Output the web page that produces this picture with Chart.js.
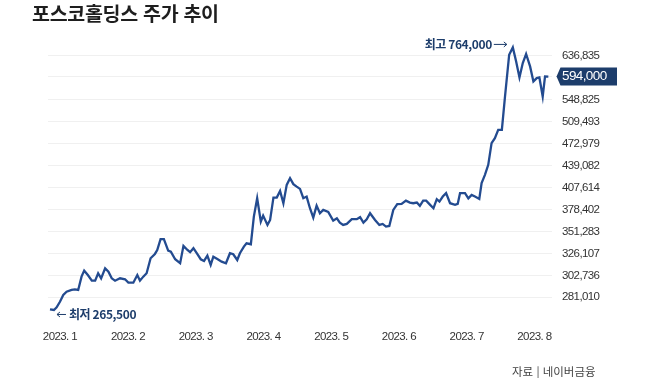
<!DOCTYPE html>
<html lang="ko">
<head>
<meta charset="utf-8">
<script src="https://cdn.jsdelivr.net/npm/chart.js@4/dist/chart.umd.min.js"></script>
<style>
  body { margin: 0; background: #fff; }
  #wrap { position: relative; width: 650px; height: 378px; overflow: hidden; }
  #chart { position: absolute; left: 0; top: 0; }
  .title {
    position: absolute; left: 32px; top: 2px;
    font: 700 19.5px 'Noto Sans CJK KR', sans-serif; line-height: 22px;
    color: #1e1e1e; letter-spacing: -0.3px;
  }
  .source {
    position: absolute; left: 512px; top: 363px;
    font: 400 11.5px 'Noto Sans CJK KR', sans-serif; line-height: 16px;
    color: #444;
  }
</style>
</head>
<body>
<div id="wrap">
  <canvas id="chart" width="650" height="378"></canvas>
  <div class="title">포스코홀딩스 주가 추이</div>
  <div class="source">자료 | 네이버금융</div>
</div>
<script>
// trading-day index (Jan 2 = 0) and closing price
const days = [
  0, 1.2, 2, 3, 4, 5, 6.5, 7.5, 8.5, 9.5,
  10.3, 11.4, 12.6, 13.6, 14.5, 15.4, 16.6, 17.6, 18.6, 19.6,
  21.1, 22.6, 23.6, 25.1, 26.3, 27.1, 28.1, 29.1, 30.3, 31.6,
  32.3, 33.3, 34.3, 35.6, 36.4, 37.7, 39.2, 40.2, 41.4, 42.2,
  43.2, 44.2, 45.4, 46.4, 47.4, 48.4, 49.2, 50.4, 51.7, 53,
  54.2, 55.2, 56.4, 57.2, 58.4, 59.2, 60.5, 61.4, 62.4, 63.5,
  64.2, 65.5, 66.3, 67.3, 68.3, 69.3, 70.3, 71.3, 72.3, 73.3,
  74.3, 75.3, 76.3, 77.3, 78.3, 79.3, 80.3, 81.3, 82.3, 83.8,
  85.3, 86.4, 87.3, 88.3, 89.4, 90.9, 92.4, 93.4, 94.4, 95.4,
  96.4, 97.9, 99.2, 100.2, 101.2, 102.2, 103.4, 104.6, 105.9, 107.2,
  108.4, 109.4, 110.5, 111.4, 112.4, 113.3, 114.5, 115.5, 116.5, 117.3,
  118.3, 119.3, 120.5, 122, 122.8, 123.5, 125, 126, 127, 128,
  129.3, 130, 131, 132, 133, 134, 135, 136.1, 137, 138.3,
  139.4, 140.4, 141.4, 142.4, 143.4, 144.6, 145.6, 146.6, 147.4, 148.4,
  149.1, 150.1
];
const prices = [
  269800, 269200, 271600, 276800, 283200, 286400, 288100, 288700, 288100, 301400,
  307600, 303100, 297300, 297300, 304900, 299700, 310100, 306500, 299700, 297300,
  299700, 298700, 295300, 295300, 303100, 297300, 301400, 304900, 320800, 325500,
  329900, 342200, 342200, 329200, 328000, 319700, 315400, 334500, 329900, 327400,
  331900, 326300, 319700, 317900, 323600, 313600, 322500, 320000, 317100, 315400,
  326300, 325200, 318900, 326300, 333700, 337500, 336400, 369400, 393200, 363200,
  370700, 359200, 365300, 394000, 394000, 403100, 386600, 411400, 420900, 412400,
  409000, 405800, 393200, 395400, 380100, 368200, 383500, 373700, 377900, 375400,
  364400, 367400, 362000, 359200, 360400, 366200, 366200, 368700, 362000, 366200,
  373700, 365300, 359200, 360400, 357100, 357900, 377900, 385300, 385700, 390000,
  387400, 386600, 387400, 383100, 390000, 390000, 384400, 380100, 391900, 388700,
  395400, 400000, 386600, 384400, 385700, 400000, 400000, 393000, 397700, 395400,
  392300, 413800, 425600, 440300, 474000, 482100, 495800, 495800, 552200, 639600,
  655600, 625200, 592100, 621800, 641100, 614700, 584200, 590900, 592100, 555200,
  594200, 594000
];
const monthPos = [3, 23.5, 43.9, 64.3, 84.7, 105.1, 125.5, 145.9];
const monthLabels = ['2023. 1', '2023. 2', '2023. 3', '2023. 4', '2023. 5', '2023. 6', '2023. 7', '2023. 8'];
const yTicks = [281010, 302736, 326107, 351283, 378402, 407614, 439082, 472979, 509493, 548825, 594000, 636835];
const currentPrice = 594000;
const lowLabel = '최저 265,500';
const highLabel = '최고 764,000';

const NAVY = '#1d3d6b';
const LINE = '#234b90';
const sans = "'Liberation Sans', Arial, sans-serif";

function drawArrow(ctx, x1, x2, y, headLeft) {
    ctx.beginPath();
    ctx.moveTo(x1, y);
    ctx.lineTo(x2, y);
    const hx = headLeft ? x1 : x2;
    const d = headLeft ? 3 : -3;
    ctx.moveTo(hx + d, y - 2.5);
    ctx.lineTo(hx, y);
    ctx.lineTo(hx + d, y + 2.5);
    ctx.stroke();
}

const annotations = {
    id: 'annotations',
    beforeDraw(chart) {
        const { ctx, chartArea, scales } = chart;
        // tighter figures, like the condensed face of the original
        ctx.letterSpacing = '-0.6px';
        // badge behind the current-price tick label
        const py = scales.y.getPixelForValue(currentPrice);
        const r = chartArea.right;
        ctx.save();
        ctx.fillStyle = NAVY;
        ctx.beginPath();
        ctx.moveTo(r + 4.5, py);
        ctx.lineTo(r + 8.5, py - 9);
        ctx.lineTo(r + 65, py - 9);
        ctx.lineTo(r + 65, py + 9);
        ctx.lineTo(r + 8.5, py + 9);
        ctx.closePath();
        ctx.fill();
        ctx.restore();
    },
    afterDatasetsDraw(chart) {
        const ctx = chart.ctx;
        const pts = chart.getDatasetMeta(0).data;
        const lo = pts[prices.indexOf(Math.min(...prices))];
        const hi = pts[prices.indexOf(Math.max(...prices))];
        ctx.save();
        ctx.letterSpacing = '-0.4px';
        ctx.fillStyle = NAVY;
        ctx.strokeStyle = NAVY;
        ctx.lineWidth = 1;
        ctx.font = "700 12px 'Noto Sans CJK KR', sans-serif";
        ctx.textBaseline = 'middle';
        drawArrow(ctx, lo.x + 3, lo.x + 12, lo.y + 4.5, true);
        ctx.textAlign = 'left';
        ctx.fillText(lowLabel, lo.x + 15, lo.y + 4.5);
        drawArrow(ctx, hi.x - 19, hi.x - 6, hi.y - 3, false);
        ctx.textAlign = 'right';
        ctx.fillText(highLabel, hi.x - 21, hi.y - 3);
        ctx.restore();
    },
    afterDraw(chart) {
        chart.ctx.letterSpacing = '0px';
    }
};

new Chart(document.getElementById('chart'), {
    type: 'line',
    data: {
        datasets: [{
            data: days.map((d, i) => ({ x: d, y: prices[i] })),
            borderColor: LINE,
            borderWidth: 2.3,
            pointRadius: 0,
            tension: 0,
            fill: false,
        }],
    },
    options: {
        responsive: false,
        animation: false,
        devicePixelRatio: 1,
        layout: { padding: { top: 40, left: 48, right: 0, bottom: 0 } },
        plugins: {
            legend: { display: false },
            tooltip: { enabled: false },
        },
        scales: {
            x: {
                type: 'linear',
                min: -0.6,
                max: 151.2,
                afterBuildTicks: s => { s.ticks = monthPos.map(v => ({ value: v })); },
                afterFit: s => { s.height = 58; },
                grid: { display: false, drawTicks: false },
                border: { display: false },
                ticks: {
                    padding: 10,
                    maxRotation: 0,
                    autoSkip: false,
                    color: '#333',
                    font: { family: sans, size: 11.5 },
                    callback: (v, i) => monthLabels[i],
                },
            },
            y: {
                type: 'logarithmic',
                position: 'right',
                min: 260200,
                max: 672300,
                afterBuildTicks: s => { s.ticks = yTicks.map(v => ({ value: v })); },
                afterFit: s => { s.width = 98; },
                grid: { color: '#f0f0f0', lineWidth: 1, drawTicks: false },
                border: { display: false },
                ticks: {
                    padding: 10,
                    autoSkip: false,
                    color: c => (c.tick && c.tick.value === currentPrice) ? '#fff' : '#333',
                    font: c => ({ family: sans, size: (c.tick && c.tick.value === currentPrice) ? 13.5 : 11.5 }),
                    callback: v => Number(v).toLocaleString('en-US'),
                },
            },
        },
    },
    plugins: [annotations],
});
</script>
</body>
</html>
